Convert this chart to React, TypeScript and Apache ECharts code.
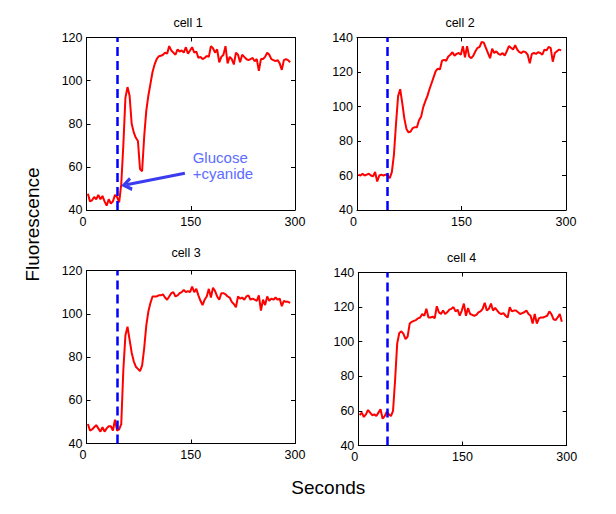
import React, { useEffect, useRef } from "react";
import * as echarts from "echarts";

// ---------- data ----------
const times = [
  2, 5, 8, 11, 14, 17, 20, 23, 26, 29, 32, 35, 38, 41, 44, 47, 50, 53, 56, 59,
  62, 65, 68, 71, 74, 77, 80, 83, 86, 89, 92, 95, 98, 101, 104, 107, 110, 113, 116, 119,
  122, 125, 128, 131, 134, 137, 140, 143, 146, 149, 152, 155, 158, 161, 164, 167, 170, 173, 176, 179,
  182, 185, 188, 191, 194, 197, 200, 203, 206, 209, 212, 215, 218, 221, 224, 227, 230, 233, 236, 239,
  242, 245, 248, 251, 254, 257, 260, 263, 266, 269, 272, 275, 278, 281, 284, 287, 290, 293,
];

const cell1 = [
  47.5, 44, 44.5, 46, 45, 47, 45, 46.5, 44, 42,
  45, 43, 44, 47, 46, 43.5, 52, 70, 92, 97,
  93, 80, 76, 73.5, 72, 59, 58, 74, 86, 93,
  98.5, 104, 107.5, 110, 111.3, 111.5, 112, 113, 112.5, 116,
  114, 113, 112, 114.5, 113.5, 114, 113, 115.5, 112.5, 114,
  115.5, 113, 113.5, 110.5, 111, 110, 110.5, 111.5, 111, 116,
  115, 113, 114.5, 108.5, 111, 112, 116, 108, 111, 110,
  107.5, 113, 112, 108.5, 112, 111, 110, 109.5, 110, 110.5,
  109, 110, 104.5, 110, 110, 111, 113, 112, 110, 109.5,
  109, 109.5, 108, 105, 109.5, 110, 109.5, 108.5,
];

const cell2 = [
  60.5, 60, 61, 60, 60.5, 61, 60, 59.5, 62, 56.5,
  60, 60.5, 60, 60.5, 60, 58.5, 62, 72, 90, 106,
  110, 102, 93, 87, 85, 85.5, 87.5, 88, 88, 92,
  94, 99.5, 103, 106, 110, 113.5, 117, 120.5, 122, 121.5,
  126.5, 127, 126.5, 129, 130, 131.5, 129.5, 130.5, 131, 130,
  135, 128.5, 135, 129, 128, 129.5, 132, 134, 134.5, 137.5,
  137, 134, 131, 128, 133.5, 131, 132, 130.5, 130, 131,
  129.5, 132, 135, 134, 133, 135.5, 133, 131.5, 131, 132,
  131.5, 130, 125, 130.5, 131, 130.5, 131.5, 131, 130, 133,
  132.5, 134.5, 134, 126, 131, 132, 133, 132.5,
];

const cell3 = [
  49, 46, 46.5, 47.5, 48.5, 47, 45.5, 47.5, 45.5, 47,
  48, 48, 46, 51, 46, 46.5, 49, 74, 90, 94,
  88, 82, 78, 75.5, 74.5, 73.5, 76, 84, 94.5, 101,
  105, 108, 108, 108, 108.5, 108.5, 109, 107.5, 106.5, 108,
  109.5, 110, 108, 108.5, 109.5, 110, 111, 110, 110.5, 110,
  112.5, 110, 111.5, 108.5, 106, 104, 106.5, 108, 111.5, 107.5,
  112, 110.5, 108, 106.5, 109.5, 109.5, 109, 108, 107.5, 105.5,
  104.5, 103, 108, 107, 107.5, 106.5, 108, 108.5, 106.5, 107,
  106.5, 106, 108.5, 101.5, 106.5, 104, 108, 106, 107, 106.5,
  107.5, 106.5, 107, 103.5, 106, 105.5, 105.5, 105,
];

const cell4 = [
  57.5, 59, 56.5, 58, 60.5, 59, 57.5, 58, 57, 59,
  61, 55.5, 57, 59.5, 58, 57, 60, 78, 99, 105,
  106, 104.5, 101.5, 103, 110.5, 111.5, 112, 112.5, 113.5, 114,
  116, 115, 119, 114, 114, 114.5, 113.5, 120.5, 117, 116,
  118, 116, 117, 118.5, 119, 120, 117.5, 118.5, 115, 118,
  122, 115, 119.5, 116, 115.5, 115, 115.5, 117, 117.5, 119,
  122.5, 118, 119, 122, 118, 119.5, 118, 116.5, 116, 116.5,
  115, 114, 120, 117.5, 118, 118, 117, 116, 116.5, 117,
  118, 116, 115, 110.5, 116, 110.5, 113.5, 114, 114, 114.5,
  115, 117.5, 116, 113, 112.5, 114, 116, 111.5,
];

const cellSeries = [cell1, cell2, cell3, cell4];
const cellTitles = ["cell 1", "cell 2", "cell 3", "cell 4"];
const yMin = [40, 40, 40, 40];
const yMax = [120, 140, 120, 140];
const yInterval = 20;
const xMin = 0;
const xMax = 300;
const xInterval = 150;
const stimulusTimes = [44, 43, 44, 41];
const annotationLines = ["Glucose", "+cyanide"];
const arrowTail = [141.5, 57.0];
const arrowHead = [57.5, 51.7];
const yAxisName = "Fluorescence";
const xAxisName = "Seconds";

// ---------- layout ----------
const FONT = "'Liberation Sans', Arial, Helvetica, sans-serif";
const grids = [
  { left: 86.5, top: 37.5, width: 208.5, height: 172.5 },
  { left: 357, top: 37.5, width: 209, height: 172.5 },
  { left: 86.5, top: 270.5, width: 208.5, height: 173 },
  { left: 358.3, top: 272.5, width: 208.4, height: 173 },
];
const titlePos = [
  [188, 22.5],
  [460, 23.3],
  [186, 253.3],
  [461.7, 258.3],
];

export default function App() {
  const ref = useRef<HTMLDivElement>(null);

  useEffect(() => {
    if (!ref.current) return;
    const chart = echarts.init(ref.current, undefined, { renderer: "svg" });

    const xAxes: any[] = [];
    const yAxes: any[] = [];
    const series: any[] = [];

    const axisLine = { show: true, onZero: false, lineStyle: { color: "#000", width: 1 } };
    const axisTick = { show: true, inside: true, length: 4, lineStyle: { color: "#000", width: 1 } };
    const label = { color: "#000", fontSize: 12.5, fontFamily: FONT };

    grids.forEach((g, i) => {
      xAxes.push({
        type: "value", gridIndex: i, min: xMin, max: xMax, interval: xInterval, position: "bottom",
        axisLine, axisTick,
        axisLabel: {
          ...label,
          margin: 5,
          formatter: (v: number) => (v === xMin ? "{z|" + v + "}" : String(v)),
          rich: { z: { ...label, padding: [0, 7, 0, 0] } },
        },
        splitLine: { show: false },
      });
      xAxes.push({
        type: "value", gridIndex: i, min: xMin, max: xMax, interval: xInterval, position: "top",
        axisLine, axisTick, axisLabel: { show: false }, splitLine: { show: false },
      });
      yAxes.push({
        type: "value", gridIndex: i, min: yMin[i], max: yMax[i], interval: yInterval, position: "left",
        axisLine, axisTick, axisLabel: { ...label, margin: 4 }, splitLine: { show: false },
      });
      yAxes.push({
        type: "value", gridIndex: i, min: yMin[i], max: yMax[i], interval: yInterval, position: "right",
        axisLine, axisTick, axisLabel: { show: false }, splitLine: { show: false },
      });

      const markData: any[] = [
        { xAxis: stimulusTimes[i], symbol: "none" },
      ];
      if (i === 0) {
        markData.push([
          { coord: arrowTail, symbol: "none", lineStyle: { color: "#3b3bef", width: 3, type: "solid" } },
          {
            coord: arrowHead,
            symbol: "path://M5,0 L10,8.6 L7.8,10 L5,4.8 L2.2,10 L0,8.6 Z",
            symbolSize: [14, 11],
            lineStyle: { color: "#3b3bef", width: 3, type: "solid" },
          },
        ]);
      }

      series.push({
        type: "line",
        xAxisIndex: 2 * i,
        yAxisIndex: 2 * i,
        data: times.map((t, k) => [t, cellSeries[i][k]]),
        showSymbol: false,
        symbol: "none",
        lineStyle: { color: "#ff0000", width: 2 },
        itemStyle: { color: "#ff0000" },
        silent: true,
        z: 2,
        markLine: {
          silent: true,
          animation: false,
          symbol: ["none", "none"],
          label: { show: false },
          lineStyle: { color: "#0000ff", width: 2.5, type: [9, 5] },
          emphasis: { disabled: true },
          data: markData,
        },
      });
    });

    const textStyle = (extra: any) => ({
      fontFamily: FONT,
      fill: "#000",
      textAlign: "center",
      textVerticalAlign: "middle",
      align: "center",
      verticalAlign: "middle",
      ...extra,
    });

    const graphics: any[] = titlePos.map((p, i) => ({
      type: "text",
      x: p[0],
      y: p[1],
      silent: true,
      style: textStyle({ text: cellTitles[i], fontSize: 12.5 }),
    }));

    graphics.push({
      type: "text",
      x: 32.5,
      y: 224.5,
      rotation: Math.PI / 2,
      silent: true,
      style: textStyle({ text: yAxisName, fontSize: 19 }),
    });
    graphics.push({
      type: "text",
      x: 328.3,
      y: 487.5,
      silent: true,
      style: textStyle({ text: xAxisName, fontSize: 19 }),
    });
    const annY = [157, 173.5];
    annotationLines.forEach((t, k) => {
      graphics.push({
        type: "text",
        x: 192.7,
        y: annY[k],
        silent: true,
        style: textStyle({
          text: t,
          fontSize: 15,
          fill: "#5c6cff",
          textAlign: "left",
          align: "left",
        }),
      });
    });

    chart.setOption({
      animation: false,
      backgroundColor: "#fff",
      grid: grids.map((g) => ({ ...g, containLabel: false })),
      xAxis: xAxes,
      yAxis: yAxes,
      series,
      graphic: graphics,
    });

    return () => chart.dispose();
  }, []);

  return (
    <div
      ref={ref}
      style={{ position: "fixed", left: 0, top: 0, width: 616, height: 514, background: "#fff" }}
    />
  );
}
